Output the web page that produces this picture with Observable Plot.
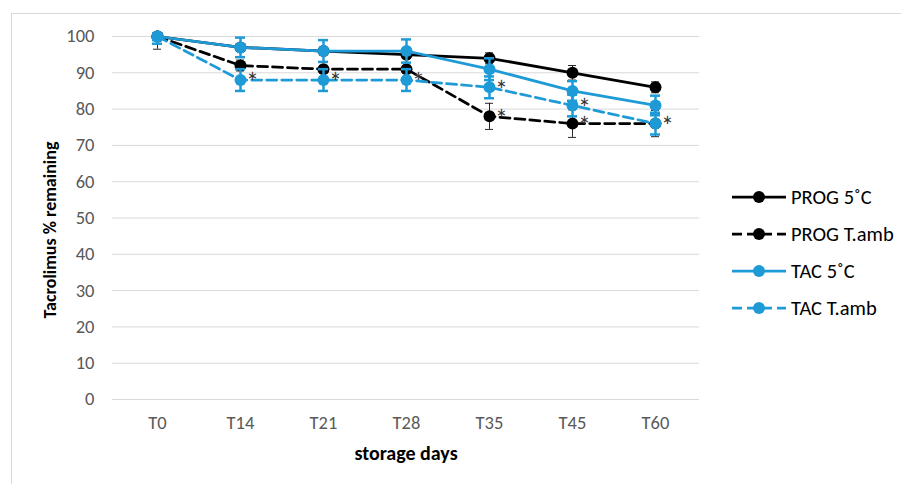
<!DOCTYPE html>
<html>
<head>
<meta charset="utf-8">
<script src="https://cdn.jsdelivr.net/npm/d3@7"></script>
<script src="https://cdn.jsdelivr.net/npm/@observablehq/plot@0.6"></script>
<style>
  body { margin: 0; background: #fff; }
  #wrap { position: relative; width: 901px; height: 484px; overflow: hidden; font-family: Carlito, Calibri, Lato, sans-serif; }
  #border { position: absolute; left: 11px; top: 13px; width: 1200px; height: 900px; border: 1px solid #d9d9d9; box-sizing: border-box; }
  #chart { position: absolute; left: 0; top: 0; }
  #legend { position: absolute; left: 731px; top: 178px; }
  .row { display: flex; align-items: center; height: 37px; }
  .row span { margin-left: 4px; font-size: 20.5px; color: #000; white-space: nowrap; }
</style>
</head>
<body>
<div id="wrap">
  <div id="border"></div>
  <div id="chart"></div>
  <div id="legend"></div>
</div>
<script>
// Storage time points and tick values
const days = ["T0", "T14", "T21", "T28", "T35", "T45", "T60"];
const yTicks = [0, 10, 20, 30, 40, 50, 60, 70, 80, 90, 100];
const seriesNames = ["PROG 5˚C", "PROG T.amb", "TAC 5˚C", "TAC T.amb"];

// Mean % remaining and error (±) per series
const progCold    = [100, 97, 96, 95, 94, 90, 86];
const progColdErr = [1, 1, 1, 1, 1.5, 2, 1.5];
const progAmb     = [100, 92, 91, 91, 78, 76, 76];
const progAmbErr  = [3.5, 1.5, 1, 1, 3.6, 3.8, 3.6];
const tacCold     = [100, 97, 96, 96, 91, 85, 81];
const tacColdErr  = [1, 2.7, 3, 3.2, 3, 2.7, 2.7];
const tacAmb      = [100, 88, 88, 88, 86, 81, 76];
const tacAmbErr   = [2, 3, 3, 3, 3, 3, 3];

// Significance markers
const progAmbSig = ["", "", "", "", "*", "*", ""];
const tacAmbSig  = ["", "*", "*", "*", "*", "*", "*"];

const BLACK = "#000000";
const BLUE = "#1e9bd7";

const seriesDefs = [
  {name: seriesNames[0], values: progCold, err: progColdErr, sig: null, color: BLACK, dashed: false, barColor: "#262626", barWidth: 1, cap: 4},
  {name: seriesNames[1], values: progAmb, err: progAmbErr, sig: progAmbSig, color: BLACK, dashed: true, barColor: "#262626", barWidth: 1, cap: 4},
  {name: seriesNames[2], values: tacCold, err: tacColdErr, sig: null, color: BLUE, dashed: false, barColor: BLUE, barWidth: 2.5, cap: 5},
  {name: seriesNames[3], values: tacAmb, err: tacAmbErr, sig: tacAmbSig, color: BLUE, dashed: true, barColor: BLUE, barWidth: 2.5, cap: 5}
];

const marks = [
  Plot.gridY(yTicks, {stroke: "#d9d9d9", strokeOpacity: 1, strokeWidth: 1}),
  Plot.axisY(yTicks, {tickSize: 0, tickPadding: 18, fontSize: 18.5, fill: "#595959", label: null}),
  Plot.axisX({tickSize: 0, tickPadding: 16, fontSize: 18.5, fill: "#595959", label: null})
];

const labelRows = [];
for (const s of seriesDefs) {
  const rows = days.map((day, i) => ({day, value: s.values[i], err: s.err[i], sig: s.sig ? s.sig[i] : ""}));
  marks.push(
    Plot.line(rows, {x: "day", y: "value", stroke: s.color, strokeWidth: 2.75, strokeDasharray: s.dashed ? "10,5" : null}),
    Plot.ruleX(rows, {x: "day", y1: d => d.value - d.err, y2: d => d.value + d.err, stroke: s.barColor, strokeWidth: s.barWidth, clip: true}),
    Plot.ruleY(rows, {x1: "day", x2: "day", y: d => d.value - d.err, insetLeft: -s.cap, insetRight: -s.cap, stroke: s.barColor, strokeWidth: s.barWidth, clip: true}),
    Plot.ruleY(rows, {x1: "day", x2: "day", y: d => d.value + d.err, insetLeft: -s.cap, insetRight: -s.cap, stroke: s.barColor, strokeWidth: s.barWidth, clip: true}),
    Plot.dot(rows, {x: "day", y: "value", r: 6, fill: s.color, stroke: "none"})
  );
  labelRows.push(...rows.filter(d => d.sig));
}

marks.push(
  Plot.text(labelRows, {x: "day", y: "value", text: "sig", dx: 12, dy: 3, fontSize: 26, fill: "#333"}),
  Plot.text(["Tacrolimus % remaining"], {frameAnchor: "left", dx: -62, dy: 12, rotate: -90, text: d => d, textAnchor: "middle", lineAnchor: "middle", fontSize: 18, fontWeight: "bold", fill: "#000"}),
  Plot.text(["storage days"], {frameAnchor: "bottom", dy: 54, text: d => d, textAnchor: "middle", lineAnchor: "middle", fontSize: 20, fontWeight: "bold", fill: "#000"})
);

const chart = Plot.plot({
  width: 901,
  height: 484,
  marginLeft: 112,
  marginRight: 202,
  marginTop: 36,
  marginBottom: 85,
  x: {type: "point", domain: days, padding: 0.5},
  y: {domain: [0, 100]},
  style: {fontFamily: "Carlito, Calibri, Lato, sans-serif", background: "transparent", overflow: "visible"},
  marks
});
document.getElementById("chart").append(chart);

// Legend
const legend = document.getElementById("legend");
for (const s of seriesDefs) {
  const row = document.createElement("div");
  row.className = "row";
  row.innerHTML = `<svg width="56" height="20"><line x1="1" x2="55" y1="10" y2="10" stroke="${s.color}" stroke-width="2.75" ${s.dashed ? 'stroke-dasharray="10,5"' : ""}/><circle cx="28" cy="10" r="6" fill="${s.color}"/></svg><span>${s.name}</span>`;
  legend.append(row);
}
</script>
</body>
</html>
